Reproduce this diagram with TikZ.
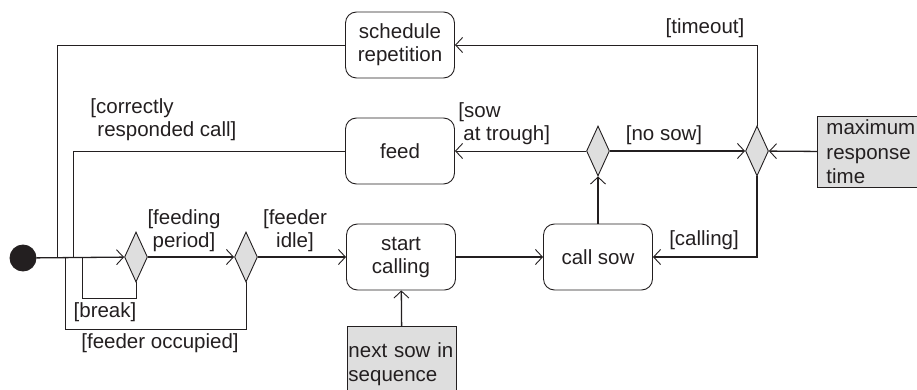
\documentclass[tikz,border=0pt]{standalone}
\usepackage{fontspec}
\setmainfont{Liberation Sans}
\usepackage{tikz}
\usetikzlibrary{shapes.geometric,arrows.meta}
\definecolor{ink}{RGB}{35,31,32}
\definecolor{boxgray}{RGB}{222,222,222}
\begin{document}
\begin{tikzpicture}[x=1pt, y=-1pt, ink, line width=0.9pt,
  font=\fontsize{20.5}{23}\selectfont,
  arr/.style={-{Straight Barb[length=7pt,width=15pt,line width=0.9pt]}},
  act/.style={draw,rectangle,rounded corners=11pt,minimum width=109pt,minimum height=66pt,align=center,inner sep=2pt},
  dec/.style={draw,diamond,fill=boxgray,inner sep=0pt,minimum width=23pt,minimum height=50pt,aspect=0.46},
  obj/.style={draw,rectangle,fill=boxgray,align=left,inner sep=0pt},
  lab/.style={inner sep=0pt}]
  \useasboundingbox (0,0) rectangle (917,390);
  \clip (0,0) rectangle (917,390);

  \node [circle,fill=ink,draw=ink,minimum size=26pt,inner sep=0pt] (init) at (23,258) {};

  \node [act] (sched) at (400,45)  {schedule\\repetition};
  \node [act] (feed)  at (400,151) {feed};
  \node [act] (start) at (401,257) {start\\calling};
  \node [act] (call)  at (598,257) {call sow};

  \node [dec] (d1) at (136,257) {};
  \node [dec] (d2) at (246,257) {};
  \node [dec] (d3) at (598,151) {};
  \node [dec] (d4) at (757,151) {};

  \node [obj,anchor=north west,minimum width=130pt,minimum height=71pt,text width=115pt,inner xsep=9pt] (maxresp) at (817,116) {maximum\\[1.5pt]response\\[1.5pt]time};
  \node [obj,anchor=north west,minimum width=109pt,minimum height=70pt,text width=107pt,inner xsep=1pt,inner ysep=0pt] (nextsow) at (347,326) {\rule{0pt}{21pt}next sow in\\[1pt]sequence};

  \coordinate (j1) at (57,258);
  \coordinate (j2) at (73,258);
  \coordinate (j3) at (82,258);
  \coordinate (j4) at (65,258);

  % main flow
  \draw [arr,line width=1.3pt] (init) -- (d1);
  \draw [arr,line width=1.3pt] (d1) -- (d2);
  \draw [arr,line width=1.3pt] (d2) -- (start);
  \draw [arr,line width=1.3pt] (start) -- (call);
  \draw [arr,line width=1.3pt] (call) -- (d3);
  \draw [arr,line width=1.3pt] (d3) -- (d4);
  \draw [arr] (d3) -- (feed);
  \draw [arr,line width=1.3pt] (maxresp) -- (d4);
  \draw [arr] (d4.north) |- (sched.east);
  \draw [arr,line width=1.3pt] (d4.south) |- (call.east);
  \draw [arr,line width=1.3pt] (nextsow) -- (start);

  % back to the start
  \draw (sched.west) -| (j1);
  \draw (feed.west) -| (j2);
  \draw (d1.south) -- ++(0,16) -| (j3);
  \draw (d2.south) -- ++(0,47) -| (j4);

  % guards
  \node [lab] (ltimeout) at (705,28) {[timeout]};
  \node [lab,anchor=west,align=left] (ltrough) at (458,124) {[sow\\\hspace*{5pt}at trough]};
  \node [lab] (lnosow) at (664,135) {[no sow]};
  \node [lab,anchor=west,align=left] (lcorrect) at (90,120) {[correctly\\\hspace*{7pt}responded call]};
  \node [lab,align=center] (lperiod) at (184,231) {[feeding\\period]};
  \node [lab,align=center] (lidle) at (295,231) {[feeder\\idle]};
  \node [lab] (lcalling) at (704,240) {[calling]};
  \node [lab] (lbreak) at (105,312) {[break]};
  \node [lab] (loccupied) at (160,343) {[feeder occupied]};
\end{tikzpicture}
\end{document}
